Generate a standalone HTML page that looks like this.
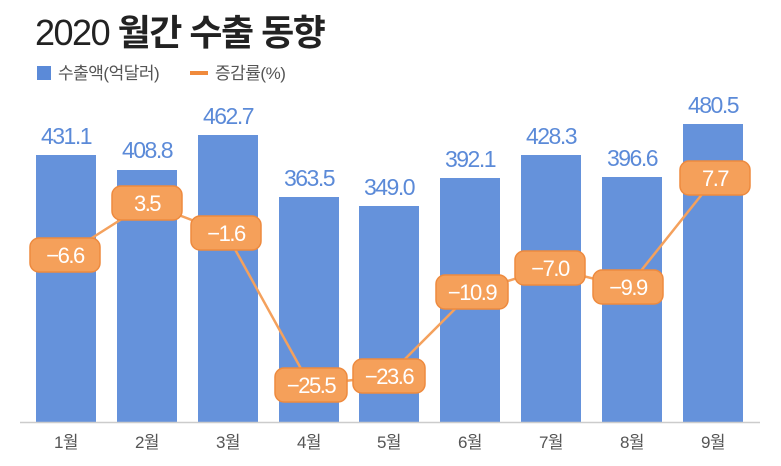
<!DOCTYPE html><html><head><meta charset="utf-8"><style>
body{margin:0;background:#fff;width:781px;height:461px;overflow:hidden;font-family:"Liberation Sans","Noto Sans CJK KR",sans-serif}
</style></head><body>
<svg width="781" height="461" xmlns="http://www.w3.org/2000/svg" font-family="Liberation Sans, Noto Sans CJK KR, sans-serif">
<text x="35" y="45" font-size="36" fill="#222" letter-spacing="-1.5">2020 <tspan font-weight="bold">월간 수출 동향</tspan></text>
<rect x="37" y="66" width="14" height="14" fill="#5b8ad8"/>
<text x="58" y="79" font-size="17" fill="#555" letter-spacing="-0.5">수출액(억달러)</text>
<rect x="190" y="71" width="18" height="4" fill="#f08a3c"/>
<text x="215" y="79" font-size="17" fill="#555" letter-spacing="-0.5">증감률(%)</text>
<g fill="#6592db">
<rect x="36" y="155" width="60" height="267"/>
<rect x="117" y="170" width="60" height="252"/>
<rect x="198" y="135" width="60" height="287"/>
<rect x="279" y="197" width="60" height="225"/>
<rect x="359" y="206" width="60" height="216"/>
<rect x="440" y="178" width="60" height="244"/>
<rect x="521" y="155" width="60" height="267"/>
<rect x="602" y="177" width="60" height="245"/>
<rect x="683" y="124" width="60" height="298"/>
</g>
<line x1="20" y1="422.5" x2="760" y2="422.5" stroke="#ccc" stroke-width="1.5"/>
<g font-size="23" fill="#5b8ad8" text-anchor="middle" letter-spacing="-1.5">
<text x="66" y="144">431.1</text><text x="147" y="158">408.8</text><text x="228" y="124">462.7</text>
<text x="309" y="186">363.5</text><text x="389" y="195">349.0</text><text x="470" y="167">392.1</text>
<text x="551" y="144">428.3</text><text x="632" y="166">396.6</text><text x="713" y="113">480.5</text>
</g>
<g font-size="17" fill="#555" text-anchor="middle" letter-spacing="-0.5">
<text x="66" y="448">1월</text><text x="147" y="448">2월</text><text x="228" y="448">3월</text>
<text x="309" y="448">4월</text><text x="389" y="448">5월</text><text x="470" y="448">6월</text>
<text x="551" y="448">7월</text><text x="632" y="448">8월</text><text x="713" y="448">9월</text>
</g>
<polyline fill="none" stroke="#f4a15d" stroke-width="2.5" points="65,255 147,203 226,233 310,385 388,376 472,292 550,268 628,287 715,178"/>
<g fill="#f5a05a" stroke="#ee8a3e" stroke-width="1.5">
<rect x="30" y="238" width="70" height="34" rx="9"/>
<rect x="112" y="186" width="70" height="34" rx="9"/>
<rect x="191" y="216" width="70" height="34" rx="9"/>
<rect x="275" y="368" width="72" height="34" rx="9"/>
<rect x="353" y="359" width="72" height="34" rx="9"/>
<rect x="436" y="275" width="72" height="34" rx="9"/>
<rect x="515" y="251" width="70" height="34" rx="9"/>
<rect x="593" y="270" width="70" height="34" rx="9"/>
<rect x="680" y="161" width="70" height="34" rx="9"/>
</g>
<g font-size="22" fill="#fff" text-anchor="middle" letter-spacing="-1.5">
<text x="65" y="263">−6.6</text><text x="147" y="211">3.5</text><text x="226" y="241">−1.6</text>
<text x="311" y="393">−25.5</text><text x="389" y="384">−23.6</text><text x="472" y="300">−10.9</text>
<text x="550" y="276">−7.0</text><text x="628" y="295">−9.9</text><text x="715" y="186">7.7</text>
</g>
</svg>
</body></html>
